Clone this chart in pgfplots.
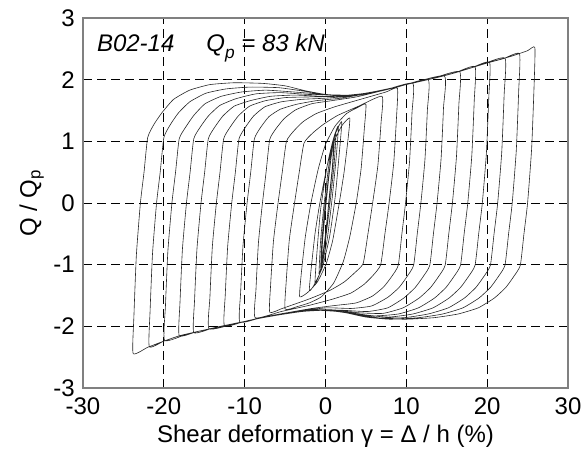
\documentclass[border=0pt]{standalone}
\usepackage{fontspec}
\setmainfont{Liberation Sans}
\usepackage{pgfplots}
\pgfplotsset{compat=1.18}
\begin{document}
\fontsize{18}{21}\selectfont
\begin{tikzpicture}
\path[use as bounding box] (-62.25pt,-45.75pt) rectangle (375.75pt,291pt);
\begin{axis}[
  scale only axis, width=363.75pt, height=277.5pt,
  xmin=-30, xmax=30, ymin=-3, ymax=3,
  xtick={-30,-20,-10,0,10,20,30}, ytick={-3,-2,-1,0,1,2,3},
  grid=major,
  major grid style={black, line width=0.6pt, dash pattern=on 6.5pt off 4pt},
  axis line style={black!50, line width=1pt},
  tick style={draw=none},
  /pgf/number format/assume math mode=true,
  ticklabel style={font=\fontsize{18}{20}\selectfont},
  xticklabel style={yshift=-1pt},
  xlabel={Shear deformation γ = Δ / h (\%)},
  ylabel={Q / Q\textsubscript{p}},
  xlabel style={font=\fontsize{18}{20}\selectfont, at={(axis description cs:0.5,-0.146)}, anchor=base},
  ylabel style={font=\fontsize{18}{20}\selectfont, at={(axis description cs:-0.095,0.5)}, anchor=base},
]
\addplot[line width=0.45pt, black!85, line join=round, smooth, tension=0.3] coordinates {
(0,0) (0.5,0.55) (1.0,1.0)
(0.85,0.6) (0.5,0.15) (0.1,-0.4) (-0.3,-0.8) (-0.5,-1.0)
(-0.35,-0.6) (0.0,-0.1) (0.4,0.4) (0.8,0.85) (1.1,1.05)
(0.9,0.6) (0.5,0.1) (0.0,-0.5) (-0.4,-0.9) (-0.6,-1.05)
(-0.45,-0.6) (-0.1,-0.1) (0.4,0.45) (0.9,0.95) (1.3,1.12)
(1.05,0.6) (0.6,0.05) (0.1,-0.5) (-0.4,-0.95) (-0.8,-1.15)
(-0.6,-0.6) (-0.2,-0.05) (0.4,0.6) (1.0,1.05) (1.6,1.25)
(1.3,0.7) (0.8,0.05) (0.2,-0.6) (-0.6,-1.1) (-1.3,-1.3)
(-1.0,-0.7) (-0.6,-0.1) (0.2,0.6) (1.0,1.05) (2.0,1.32)
(1.7,0.8) (1.2,0.1) (0.5,-0.55) (-0.4,-1.05) (-1.5,-1.35) (-2.0,-1.42)
(-1.8,-1.1) (-1.3,-0.5) (-0.7,0) (0.2,0.6) (1.0,0.98) (2.0,1.25) (3.0,1.38)
(2.8,1.05) (2.3,0.5) (1.7,0) (0.9,-0.6) (0.1,-0.98) (-1.0,-1.28) (-2.2,-1.45) (-3.2,-1.52)
(-3.0,-1.15) (-2.5,-0.55) (-1.8,0) (-0.9,0.55) (0.0,0.95) (1.2,1.25) (2.6,1.45) (4.0,1.55) (5.0,1.6)
(4.8,1.2) (4.4,0.55) (3.8,0) (3.0,-0.55) (2.2,-0.95) (1.0,-1.3) (-0.5,-1.52) (-2.0,-1.62) (-3.5,-1.68) (-5.0,-1.72)
(-4.87,-1.29) (-4.48,-0.60) (-3.83,0) (-3.25,0.5) (-2.66,0.97) (-1.62,1.13) (-0.32,1.27) (1.5,1.42) (4.1,1.57) (7.0,1.73)
(6.87,1.30) (6.48,0.61) (5.83,0) (5.25,-0.5) (4.66,-0.98) (3.62,-1.13) (2.32,-1.28) (0.5,-1.42) (-2.1,-1.56) (-5.35,-1.71) (-6.9,-1.77)
(-6.79,-1.33) (-6.44,-0.62) (-5.87,0) (-5.35,0.5) (-4.83,1.00) (-3.91,1.17) (-2.76,1.32) (-1.15,1.45) (1.15,1.56) (4.03,1.67) (7.48,1.80) (8.9,1.86)
(8.79,1.40) (8.44,0.65) (7.87,0) (7.35,-0.5) (6.83,-1.00) (5.91,-1.17) (4.76,-1.32) (3.15,-1.46) (0.85,-1.56) (-2.03,-1.66) (-5.48,-1.76) (-8.7,-1.86)
(-8.6,-1.40) (-8.3,-0.65) (-7.8,0) (-7.35,0.5) (-6.9,1.03) (-6.1,1.21) (-5.1,1.37) (-3.7,1.51) (-1.7,1.61) (0.8,1.66) (3.8,1.72) (7.3,1.83) (10.8,1.94)
(10.7,1.46) (10.4,0.68) (9.9,0) (9.45,-0.5) (9.0,-1.01) (8.2,-1.19) (7.2,-1.36) (5.8,-1.51) (3.8,-1.62) (1.3,-1.66) (-1.7,-1.71) (-5.2,-1.79) (-8.0,-1.86) (-10.6,-1.93)
(-10.5,-1.45) (-10.2,-0.68) (-9.7,0) (-9.25,0.5) (-8.8,1.04) (-8.0,1.23) (-7.0,1.40) (-5.6,1.52) (-3.6,1.60) (-1.1,1.66) (1.9,1.70) (5.4,1.78) (8.9,1.88) (12.7,2.00)
(12.6,1.50) (12.3,0.70) (11.8,0) (11.35,-0.5) (10.9,-1.01) (10.1,-1.19) (9.1,-1.37) (7.7,-1.53) (5.7,-1.67) (3.2,-1.71) (0.2,-1.70) (-3.3,-1.75) (-6.8,-1.83) (-10.0,-1.92) (-12.5,-1.99)
(-12.4,-1.49) (-12.1,-0.70) (-11.6,0) (-11.15,0.5) (-10.7,1.04) (-9.9,1.23) (-8.9,1.41) (-7.5,1.56) (-5.5,1.64) (-3.0,1.68) (0.0,1.70) (3.5,1.74) (7.0,1.82) (10.0,1.92) (14.7,2.06)
(14.6,1.55) (14.3,0.72) (13.8,0) (13.35,-0.5) (12.9,-1.01) (12.1,-1.19) (11.1,-1.37) (9.7,-1.54) (7.7,-1.70) (5.2,-1.76) (2.2,-1.74) (-1.3,-1.73) (-4.8,-1.78) (-8.0,-1.86) (-11.0,-1.95) (-14.4,-2.04)
(-14.3,-1.53) (-14.0,-0.71) (-13.5,0) (-13.05,0.5) (-12.6,1.04) (-11.8,1.23) (-10.8,1.41) (-9.4,1.57) (-7.4,1.66) (-4.9,1.71) (-1.9,1.72) (1.6,1.73) (4.0,1.76) (7.0,1.83) (10.0,1.92) (13.0,2.01) (16.6,2.13)
(16.5,1.60) (16.2,0.75) (15.7,0) (15.25,-0.5) (14.8,-1.01) (14.0,-1.19) (13.0,-1.37) (11.6,-1.54) (9.6,-1.70) (7.1,-1.79) (4.1,-1.78) (0.6,-1.73) (-2.9,-1.76) (-6.0,-1.82) (-9.0,-1.89) (-12.0,-1.98) (-14.0,-2.03) (-16.3,-2.10)
(-16.2,-1.58) (-15.9,-0.74) (-15.4,0) (-14.95,0.5) (-14.5,1.04) (-13.7,1.23) (-12.7,1.41) (-11.3,1.57) (-9.3,1.66) (-6.8,1.73) (-3.8,1.75) (-0.3,1.73) (2.0,1.74) (5.0,1.78) (8.0,1.86) (11.0,1.95) (14.0,2.04) (16.0,2.11) (18.5,2.21)
(18.4,1.66) (18.1,0.77) (17.6,0) (17.15,-0.5) (16.7,-1.01) (15.9,-1.19) (14.9,-1.37) (13.5,-1.54) (11.5,-1.70) (9.0,-1.80) (6.0,-1.83) (2.5,-1.77) (-1.0,-1.74) (-4.0,-1.77) (-7.0,-1.84) (-10.0,-1.92) (-13.0,-2.00) (-16.0,-2.09) (-18.1,-2.15)
(-18.0,-1.61) (-17.7,-0.75) (-17.2,0) (-16.75,0.5) (-16.3,1.04) (-15.5,1.23) (-14.5,1.41) (-13.1,1.58) (-11.1,1.69) (-8.6,1.77) (-5.6,1.79) (-2.1,1.76) (0.5,1.755) (3.0,1.75) (6.0,1.80) (9.0,1.89) (12.0,1.98) (15.0,2.075) (18.0,2.19) (20.3,2.28)
(20.2,1.71) (19.9,0.80) (19.4,0) (18.95,-0.5) (18.5,-1.01) (17.7,-1.19) (16.7,-1.37) (15.3,-1.54) (13.3,-1.70) (10.8,-1.80) (7.8,-1.85) (4.3,-1.81) (0.8,-1.74) (-2.0,-1.75) (-5.0,-1.79) (-8.0,-1.86) (-11.0,-1.95) (-14.0,-2.03) (-17.0,-2.12) (-19.9,-2.23)
(-19.8,-1.67) (-19.5,-0.78) (-19.0,0) (-18.55,0.5) (-18.1,1.04) (-17.3,1.23) (-16.3,1.42) (-14.9,1.61) (-12.9,1.73) (-10.4,1.80) (-7.4,1.83) (-3.9,1.80) (-1.0,1.77) (1.5,1.745) (4.0,1.76) (7.0,1.83) (10.0,1.92) (13.0,2.01) (16.0,2.11) (19.0,2.23) (22.2,2.35)
(22.1,1.76) (21.8,0.82) (21.3,0) (20.85,-0.5) (20.4,-1.01) (19.6,-1.19) (18.6,-1.37) (17.2,-1.54) (15.2,-1.70) (12.7,-1.80) (9.7,-1.86) (6.2,-1.86) (2.7,-1.78) (0.0,-1.74) (-3.0,-1.76) (-6.0,-1.82) (-9.0,-1.89) (-12.0,-1.98) (-15.0,-2.06) (-18.0,-2.15) (-20.0,-2.24) (-21.8,-2.33)
(-21.7,-1.75) (-21.4,-0.82) (-20.9,0) (-20.45,0.5) (-20.0,1.06) (-19.2,1.27) (-18.2,1.46) (-16.8,1.64) (-14.8,1.78) (-12.3,1.85) (-9.3,1.88) (-5.8,1.87) (-3.0,1.82) (-0.5,1.77) (2.0,1.74) (5.0,1.78) (8.0,1.86) (11.0,1.95) (14.0,2.04) (17.0,2.15) (20.0,2.27) (22.0,2.34) (24.0,2.42)
(23.9,1.82) (23.6,0.85) (23.1,0) (22.65,-0.5) (22.2,-1.01) (21.4,-1.19) (20.4,-1.37) (19.0,-1.54) (17.0,-1.70) (14.5,-1.80) (11.5,-1.86) (8.0,-1.885) (5.0,-1.85) (2.5,-1.78) (0.0,-1.74) (-3.0,-1.76) (-6.0,-1.82) (-9.0,-1.89) (-12.0,-1.98) (-15.0,-2.06) (-18.0,-2.15) (-20.0,-2.24) (-22.0,-2.34) (-23.8,-2.44)
(-23.7,-1.83) (-23.4,-0.85) (-22.9,0) (-22.45,0.5) (-22.0,1.06) (-21.2,1.28) (-20.2,1.47) (-18.8,1.68) (-16.8,1.83) (-14.3,1.92) (-11.3,1.95) (-7.8,1.94) (-5.0,1.90) (-2.5,1.82) (0.0,1.76) (2.0,1.74) (5.0,1.78) (8.0,1.86) (11.0,1.95) (14.0,2.04) (17.0,2.15) (20.0,2.27) (23.0,2.38) (25.0,2.47) (25.9,2.52)
(25.8,1.89) (25.5,0.88) (25.0,0) (24.55,-0.5) (24.1,-1.01) (23.3,-1.19) (22.3,-1.37) (20.9,-1.54) (18.9,-1.70) (16.4,-1.80) (13.4,-1.86) (9.9,-1.885) (7.0,-1.87) (4.0,-1.81) (1.0,-1.75) (0.0,-1.74)
};
\node[anchor=base west, font=\fontsize{18}{20}\selectfont\itshape, inner sep=0pt] at (axis cs:-28.3,2.45) {B02-14\hspace{24pt}Q\raisebox{-0.55ex}{\fontsize{13}{13}\selectfont p} = 83 kN};
\end{axis}
\end{tikzpicture}
\end{document}
